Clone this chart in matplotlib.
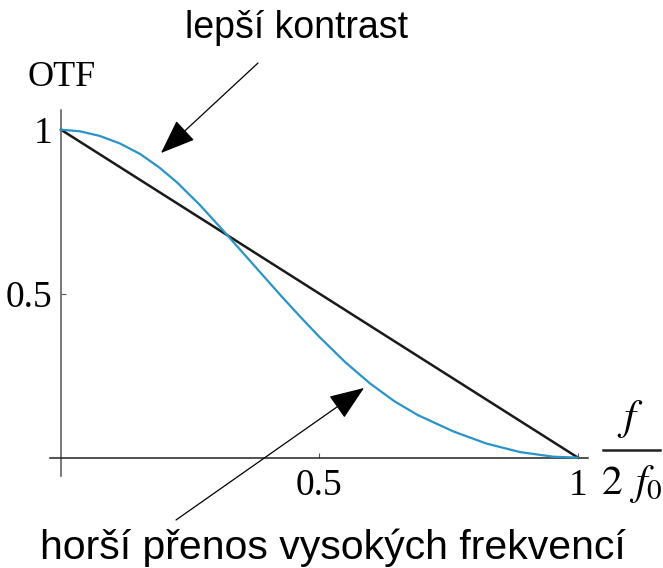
import matplotlib
matplotlib.use("Agg")
import matplotlib.pyplot as plt

# Data
blue_x = [0.0, 0.037, 0.075, 0.114, 0.153, 0.19, 0.224, 0.269, 0.314, 0.359, 0.404,
          0.43, 0.465, 0.5, 0.55, 0.598, 0.645, 0.69, 0.759, 0.823, 0.888, 0.952, 1.0]
blue_y = [1.0, 0.995, 0.981, 0.958, 0.926, 0.885, 0.840, 0.770, 0.692, 0.612, 0.532,
          0.486, 0.426, 0.368, 0.291, 0.226, 0.172, 0.130, 0.080, 0.043, 0.017, 0.003, 0.0]
line_x = [0.0, 1.0]
line_y = [1.0, 0.0]
xticks = [0.5, 1.0]
xticklabels = ["0.5", "1"]
yticks = [0.5, 1.0]
yticklabels = ["0.5", "1"]

plt.rcParams['mathtext.fontset'] = 'stix'
W, H = 663, 568
fig = plt.figure(figsize=(W / 100, H / 100), dpi=100)
ax = fig.add_axes([50.1 / W, (H - 475.7) / H, (588.3 - 50.1) / W, (475.7 - 110) / H])
ax.set_xlim(-0.021, 1.02)
ax.set_ylim(-0.055, 1.06)

ax.plot(blue_x, blue_y, color='#2a93c8', lw=1.6, solid_capstyle='round',
        solid_joinstyle='round', zorder=3)
ax.plot(line_x, line_y, color='#1a1a1a', lw=1.8, zorder=2)

for s in ['top', 'right']:
    ax.spines[s].set_visible(False)
ax.spines['left'].set_position(('data', 0))
ax.spines['bottom'].set_position(('data', 0))
ax.spines['left'].set_color('#555555')
ax.spines['bottom'].set_color('#222222')
ax.spines['left'].set_linewidth(1.1)
ax.spines['bottom'].set_linewidth(1.1)

serif = ['Liberation Serif', 'DejaVu Serif']
ax.set_xticks(xticks)
ax.set_xticklabels(xticklabels, family=serif, fontsize=27)
ax.set_yticks(yticks)
ax.set_yticklabels(yticklabels, family=serif, fontsize=27)
ax.tick_params(direction='in', length=3.5, width=0.8, color='#555555')
ax.tick_params(axis='x', pad=8)
ax.tick_params(axis='y', pad=6)

# Axis labels
fig.text(62 / W, 1 - 78 / H, "OTF", family=serif, fontsize=26, ha='center', va='center')
fig.text(630 / W, 1 - 419 / H, r"$f$", fontsize=31, ha='center', va='center')
fig.add_artist(plt.Line2D([603 / W, 660 / W], [1 - 450 / H, 1 - 450 / H],
                          color='#222222', lw=1.8, transform=fig.transFigure))
fig.text(632 / W, 1 - 484 / H, r"$\mathrm{2}\;\,f_0$", fontsize=30, ha='center', va='center')

sans = ['Liberation Sans', 'DejaVu Sans']
fig.text(297 / W, 1 - 28 / H, "lepší kontrast", family=sans, fontsize=27,
         ha='center', va='center')
fig.text(333 / W, 1 - 548 / H, "horší přenos vysokých frekvencí", family=sans,
         fontsize=29.5, ha='center', va='center')

arrowprops = dict(arrowstyle='-|>,head_length=2.2,head_width=0.85', color='black',
                  lw=0.9, shrinkA=0, shrinkB=0)
ax.annotate("", xy=(161 / W, 1 - 153 / H), xycoords='figure fraction',
            xytext=(258 / W, 1 - 63 / H), textcoords='figure fraction',
            arrowprops=arrowprops)
ax.annotate("", xy=(364 / W, 1 - 388 / H), xycoords='figure fraction',
            xytext=(176 / W, 1 - 520 / H), textcoords='figure fraction',
            arrowprops=arrowprops)

fig.savefig("out.png", dpi=100)
